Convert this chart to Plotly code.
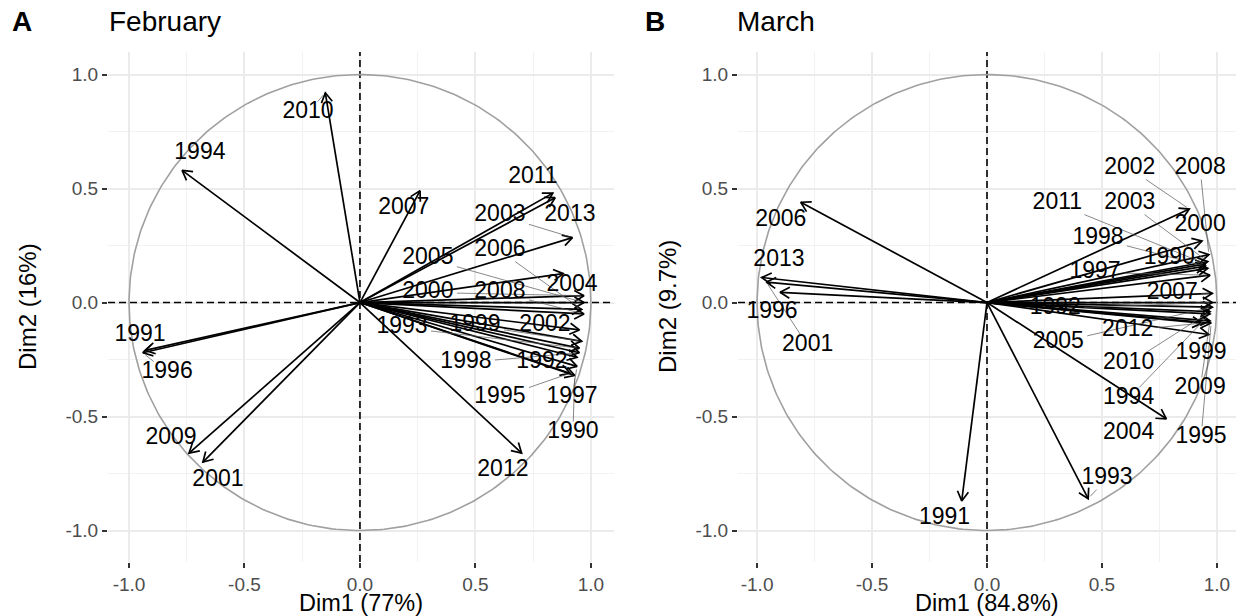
import numpy as np
import plotly.graph_objects as go

# ---------------- data ----------------
years = [str(y) for y in range(1990, 2014)]

# February (panel A) variable coordinates (Dim1, Dim2)
feb_dim1 = [0.93, -0.93, 0.94, 0.95, -0.77, 0.91, -0.94, 0.94, 0.95, 0.96, 0.97, -0.68,
            0.95, 0.92, 0.88, 0.97, 0.96, 0.26, 0.97, -0.74, -0.15, 0.835, 0.70, 0.845]
feb_dim2 = [-0.32, -0.21, -0.24, -0.20, 0.58, -0.31, -0.22, -0.28, -0.22, -0.17, 0.03, -0.70,
            -0.12, 0.285, 0.127, 0.00, -0.03, 0.49, -0.05, -0.66, 0.92, 0.48, -0.66, 0.46]
# February label positions (repelled)
feb_lab_x = [0.922, -0.952, 0.788, 0.182, -0.693, 0.606, -0.835, 0.918, 0.459, 0.498, 0.294, -0.615,
             0.801, 0.606, 0.918, 0.294, 0.606, 0.190, 0.606, -0.818, -0.225, 0.749, 0.619, 0.909]
feb_lab_y = [-0.570, -0.145, -0.263, -0.110, 0.654, -0.417, -0.307, -0.417, -0.263, -0.101, 0.044, -0.781,
             -0.101, 0.382, 0.075, 0.193, 0.228, 0.412, 0.044, -0.596, 0.833, 0.548, -0.737, 0.382]

# March (panel B)
mar_dim1 = [0.96, -0.11, 0.98, 0.44, 0.97, 0.975, -0.90, 0.97, 0.95, 0.965, 0.935, -0.96,
            0.88, 0.96, 0.78, 0.98, -0.81, 0.98, 0.965, 0.97, 0.97, 0.95, 0.935, -0.98]
mar_dim2 = [0.15, -0.87, 0.00, -0.86, -0.05, -0.09, 0.045, 0.12, 0.16, -0.14, 0.27, 0.09,
            0.41, 0.18, -0.51, -0.02, 0.44, 0.04, 0.21, -0.08, -0.04, 0.17, -0.09, 0.11]
mar_lab_x = [0.793, -0.185, 0.297, 0.522, 0.616, 0.931, -0.935, 0.470, 0.483, 0.931, 0.927, -0.780,
             0.621, 0.621, 0.616, 0.310, -0.897, 0.806, 0.927, 0.927, 0.616, 0.306, 0.612, -0.905]
mar_lab_y = [0.193, -0.947, -0.026, -0.772, -0.421, -0.592, -0.044, 0.132, 0.281, -0.224, 0.338, -0.189,
             0.588, 0.434, -0.575, -0.175, 0.360, 0.039, 0.588, -0.377, -0.268, 0.434, -0.123, 0.184]

tick_vals = [-1.0, -0.5, 0.0, 0.5, 1.0]
tick_text = ["-1.0", "-0.5", "0.0", "0.5", "1.0"]
minor_vals = [-0.75, -0.25, 0.25, 0.75]

panel_titles = ["February", "March"]
panel_tags = ["A", "B"]
x_titles = ["Dim1 (77%)", "Dim1 (84.8%)"]
y_titles = ["Dim2 (16%)", "Dim2 (9.7%)"]

# ---------------- layout geometry ----------------
W, H = 1240, 616
FONT = "Liberation Sans, Arial, sans-serif"
y_px = (52, 562)           # panel top, bottom (px)
y_range = [-1.138, 1.099]
panels = [
    dict(x_px=(108, 614), x_range=[-1.091, 1.100]),
    dict(x_px=(738, 1236), x_range=[-1.083, 1.083]),
]

fig = go.Figure()


def add_panel(i, d1, d2, lx, ly):
    p = panels[i]
    xa = "x" if i == 0 else "x2"
    ya = "y" if i == 0 else "y2"
    ppx = (p["x_px"][1] - p["x_px"][0]) / (p["x_range"][1] - p["x_range"][0])
    ppy = (y_px[1] - y_px[0]) / (y_range[1] - y_range[0])

    # dashed reference lines through the origin
    fig.add_trace(go.Scatter(x=[p["x_range"][0], p["x_range"][1], None, 0, 0],
                             y=[0, 0, None, y_range[0], y_range[1]],
                             mode="lines", xaxis=xa, yaxis=ya, hoverinfo="skip",
                             line=dict(color="black", width=1.6, dash="7px,4px"),
                             showlegend=False))
    # unit circle of correlations
    th = np.linspace(0, 2 * np.pi, 361)
    fig.add_trace(go.Scatter(x=np.cos(th), y=np.sin(th), mode="lines", xaxis=xa, yaxis=ya,
                             line=dict(color="#A0A0A0", width=1.6), hoverinfo="skip",
                             showlegend=False))

    # arrows
    ax, ay = [], []
    L = 11.0
    ang = np.deg2rad(30)
    for x, y in zip(d1, d2):
        ax += [0, x, None]
        ay += [0, y, None]
        ux, uy = x * ppx, y * ppy
        n = np.hypot(ux, uy)
        ux, uy = -ux / n, -uy / n
        ends = []
        for s in (ang, -ang):
            rx = ux * np.cos(s) - uy * np.sin(s)
            ry = ux * np.sin(s) + uy * np.cos(s)
            ends.append((x + rx * L / ppx, y + ry * L / ppy))
        ax += [ends[0][0], x, ends[1][0], None]
        ay += [ends[0][1], y, ends[1][1], None]
    fig.add_trace(go.Scatter(x=ax, y=ay, mode="lines", xaxis=xa, yaxis=ya,
                             line=dict(color="black", width=1.7), hoverinfo="skip",
                             showlegend=False))

    # leader segments (label box edge -> arrow tip)
    sx, sy = [], []
    hw, hh = 29.0, 11.0
    for x, y, a, b in zip(d1, d2, lx, ly):
        dx, dy = (x - a) * ppx, (y - b) * ppy
        if abs(dx) <= hw and abs(dy) <= hh:
            continue
        t = min(hw / abs(dx) if dx else np.inf, hh / abs(dy) if dy else np.inf)
        n = np.hypot(dx, dy)
        sx0, sy0 = a + t * dx / ppx, b + t * dy / ppy
        pad = 3.0
        ex, ey = x - pad * dx / n / ppx, y - pad * dy / n / ppy
        if np.hypot((ex - sx0) * ppx, (ey - sy0) * ppy) < 8:
            continue
        sx += [sx0, ex, None]
        sy += [sy0, ey, None]
    fig.add_trace(go.Scatter(x=sx, y=sy, mode="lines", xaxis=xa, yaxis=ya,
                             line=dict(color="#555555", width=0.7), hoverinfo="skip",
                             showlegend=False))

    # labels
    fig.add_trace(go.Scatter(x=lx, y=ly, text=years, mode="text", xaxis=xa, yaxis=ya,
                             textfont=dict(family=FONT, size=23, color="black"),
                             textposition="middle center", cliponaxis=False,
                             hoverinfo="skip", showlegend=False))


add_panel(0, feb_dim1, feb_dim2, feb_lab_x, feb_lab_y)
add_panel(1, mar_dim1, mar_dim2, mar_lab_x, mar_lab_y)

axis_common = dict(
    tickmode="array", tickvals=tick_vals, ticktext=tick_text,
    ticks="outside", ticklen=5, tickwidth=1.5, tickcolor="#333333",
    tickfont=dict(family=FONT, size=19, color="#4D4D4D"),
    showgrid=True, gridcolor="#EBEBEB", gridwidth=1.6,
    minor=dict(tickmode="array", tickvals=minor_vals, showgrid=True,
               gridcolor="#F2F2F2", gridwidth=0.9, ticks=""),
    zeroline=False, showline=False, fixedrange=True,
)

ydom = [1 - y_px[1] / H, 1 - y_px[0] / H]
layout = dict(
    width=W, height=H, margin=dict(l=0, r=0, t=0, b=0),
    plot_bgcolor="white", paper_bgcolor="white", showlegend=False,
    font=dict(family=FONT),
)
for i, p in enumerate(panels):
    sfx = "" if i == 0 else "2"
    layout["xaxis" + sfx] = dict(axis_common, domain=[p["x_px"][0] / W, p["x_px"][1] / W],
                                 range=p["x_range"], anchor="y" + sfx)
    layout["yaxis" + sfx] = dict(axis_common, domain=ydom, range=y_range, anchor="x" + sfx)
fig.update_layout(**layout)

# titles and axis titles
tag_x = [10, 643]
title_x = [107, 735]
ytitle_x = [27, 667]
for i, p in enumerate(panels):
    cx = (p["x_px"][0] + p["x_px"][1]) / 2
    fig.add_annotation(xref="paper", yref="paper", x=tag_x[i] / W, y=1 - 22 / H,
                       text="<b>%s</b>" % panel_tags[i], showarrow=False,
                       xanchor="left", yanchor="middle",
                       font=dict(family=FONT, size=28, color="black"))
    fig.add_annotation(xref="paper", yref="paper", x=title_x[i] / W, y=1 - 22 / H,
                       text=panel_titles[i], showarrow=False,
                       xanchor="left", yanchor="middle",
                       font=dict(family=FONT, size=28, color="black"))
    fig.add_annotation(xref="paper", yref="paper", x=cx / W, y=1 - 603 / H,
                       text=x_titles[i], showarrow=False,
                       xanchor="center", yanchor="middle",
                       font=dict(family=FONT, size=23.5, color="black"))
    fig.add_annotation(xref="paper", yref="paper", x=ytitle_x[i] / W,
                       y=1 - ((y_px[0] + y_px[1]) / 2) / H,
                       text=y_titles[i], showarrow=False, textangle=-90,
                       xanchor="center", yanchor="middle",
                       font=dict(family=FONT, size=24, color="black"))

fig.write_html("out.html", config={"displayModeBar": False},
               post_script="document.body.style.margin='0px';")
